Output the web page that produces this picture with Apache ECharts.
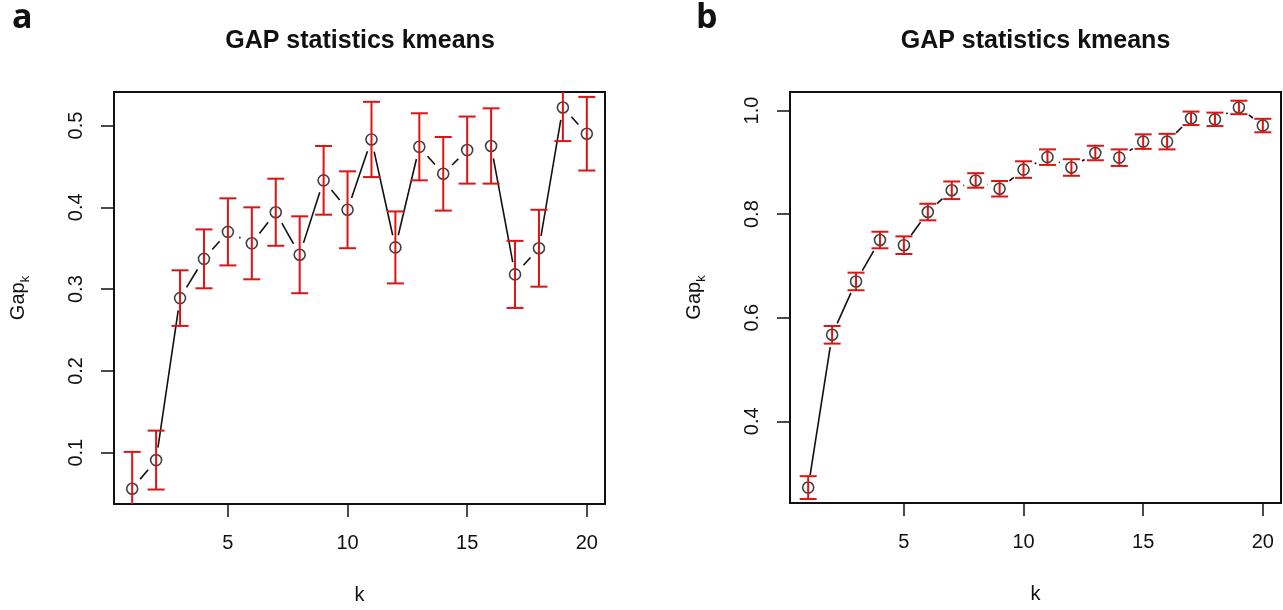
<!DOCTYPE html>
<html>
<head>
<meta charset="utf-8">
<script src="https://cdn.jsdelivr.net/npm/echarts@6/dist/echarts.min.js"></script>
<style>html,body{margin:0;padding:0;background:#fff;}#c{width:1283px;height:610px;}</style>
</head>
<body>
<div id="c"></div>
<script>
// ---- data ----
const ks = [1,2,3,4,5,6,7,8,9,10,11,12,13,14,15,16,17,18,19,20];
const gapA = [0.056,0.091,0.289,0.337,0.370,0.356,0.394,0.342,0.433,0.397,0.483,0.351,0.474,0.441,0.470,0.475,0.318,0.350,0.522,0.490];
const seA  = [0.045,0.036,0.034,0.036,0.041,0.044,0.041,0.047,0.042,0.047,0.046,0.044,0.041,0.045,0.041,0.046,0.041,0.047,0.041,0.045];
const gapB = [0.272,0.567,0.670,0.750,0.740,0.804,0.846,0.865,0.849,0.886,0.910,0.890,0.918,0.909,0.940,0.940,0.985,0.983,1.006,0.971];
const seB  = [0.022,0.017,0.017,0.016,0.017,0.016,0.017,0.014,0.015,0.016,0.015,0.016,0.014,0.016,0.014,0.015,0.013,0.013,0.013,0.013];
const xTicks = [5,10,15,20];
const yTicksA = [0.1,0.2,0.3,0.4,0.5];
const yTicksB = [0.4,0.6,0.8,1.0];
const titleText = 'GAP statistics kmeans';

const RED = '#dc1414';
const FONT = '"Liberation Sans", Arial, sans-serif';
const GAP_PX = 12.5;

function errData(g, s){ return ks.map((k,i)=>[k, g[i], s[i]]); }
function segData(g){ const out=[]; for(let i=0;i<ks.length-1;i++) out.push([ks[i], g[i], ks[i+1], g[i+1]]); return out; }
function ptData(g){ return ks.map((k,i)=>[k, g[i]]); }

function renderErr(params, api){
  const cs = params.coordSys;
  const k = api.value(0), g = api.value(1), s = api.value(2);
  const top = api.coord([k, g+s]), bot = api.coord([k, g-s]);
  const yMin = cs.y, yMax = cs.y + cs.height;
  const half = 8.5;
  const children = [];
  const y1 = Math.max(top[1], yMin), y2 = Math.min(bot[1], yMax);
  const st = {stroke: RED, lineWidth: 2};
  children.push({type:'line', shape:{x1:top[0], y1:y1, x2:top[0], y2:y2}, style: st});
  if (top[1] >= yMin) children.push({type:'line', shape:{x1:top[0]-half, y1:top[1], x2:top[0]+half, y2:top[1]}, style: st});
  if (bot[1] <= yMax) children.push({type:'line', shape:{x1:bot[0]-half, y1:bot[1], x2:bot[0]+half, y2:bot[1]}, style: st});
  return {type:'group', children};
}
function renderSeg(params, api){
  const a = api.coord([api.value(0), api.value(1)]);
  const b = api.coord([api.value(2), api.value(3)]);
  const dx = b[0]-a[0], dy = b[1]-a[1];
  const L = Math.sqrt(dx*dx+dy*dy);
  if (L <= 2*GAP_PX) return null;
  const ux = dx/L, uy = dy/L;
  return {type:'line', shape:{x1:a[0]+ux*GAP_PX, y1:a[1]+uy*GAP_PX, x2:b[0]-ux*GAP_PX, y2:b[1]-uy*GAP_PX},
          style:{stroke:'#111', lineWidth:1.6}};
}

function xAxisCfg(idx){
  return {
    type:'value', gridIndex: idx, min: 0.24, max: 20.76,
    name: 'k', nameLocation: 'middle', nameGap: 81,
    nameTextStyle: {fontFamily: FONT, fontSize: 20, color: '#111'},
    axisLine: {show: false},
    splitLine: {show: false},
    axisTick: {show: true, customValues: xTicks, length: 13, lineStyle: {color:'#111', width: 1.5}},
    axisLabel: {customValues: xTicks, margin: 29, fontFamily: FONT, fontSize: 20, color: '#111'}
  };
}
function yAxisCfg(idx, mn, mx, ticks){
  return {
    type:'value', gridIndex: idx, min: mn, max: mx,
    name: '{g|Gap}{s|k}', nameLocation: 'middle', nameGap: 86, nameRotate: 90,
    nameTextStyle: {fontFamily: FONT, color:'#111', rich: {
      g: {fontFamily: FONT, fontSize: 20, color:'#111'},
      s: {fontFamily: FONT, fontSize: 13, color:'#111', verticalAlign: 'bottom', padding:[0,0,-4,0]}
    }},
    axisLine: {show: false},
    splitLine: {show: false},
    axisTick: {show: true, customValues: ticks, length: 13, lineStyle: {color:'#111', width: 1.5}},
    axisLabel: {customValues: ticks, rotate: 90, margin: 28, fontFamily: FONT, fontSize: 20, color: '#111',
      formatter: v => (+v).toFixed(1)}
  };
}
function seriesFor(idx, g, s){
  return [
    {type:'custom', xAxisIndex: idx, yAxisIndex: idx, data: segData(g), renderItem: renderSeg,
     encode:{x:[0,2], y:[1,3]}, silent: true, z: 2},
    {type:'scatter', xAxisIndex: idx, yAxisIndex: idx, data: ptData(g), symbol: 'circle', symbolSize: 11,
     itemStyle: {color: 'rgba(0,0,0,0)', borderColor: '#111', borderWidth: 1.6}, silent: true, z: 3},
    {type:'custom', xAxisIndex: idx, yAxisIndex: idx, data: errData(g, s), renderItem: renderErr,
     encode:{x:0, y:1}, silent: true, z: 4}
  ];
}

const chart = echarts.init(document.getElementById('c'), null, {renderer: 'canvas'});
chart.setOption({
  animation: false,
  backgroundColor: '#fff',
  grid: [
    {left: 114, top: 92, width: 491, height: 412, show: true, borderColor: '#111', borderWidth: 2, backgroundColor: 'transparent'},
    {left: 790, top: 92, width: 491, height: 411, show: true, borderColor: '#111', borderWidth: 2, backgroundColor: 'transparent'}
  ],
  xAxis: [xAxisCfg(0), xAxisCfg(1)],
  yAxis: [yAxisCfg(0, 0.0373, 0.5410, yTicksA), yAxisCfg(1, 0.2422, 1.0358, yTicksB)],
  graphic: [
    {type:'text', left: 12, top: 1, style: {text: 'a', font: 'bold 34px "Open Sans", sans-serif', fill: '#111'}},
    {type:'text', left: 696, top: 1, style: {text: 'b', font: 'bold 34px "Open Sans", sans-serif', fill: '#111'}},
    {type:'text', x: 360, y: 41, style: {text: titleText, font: 'bold 25px "Liberation Sans", Arial, sans-serif', fill: '#111', textAlign: 'center', textVerticalAlign: 'middle'}},
    {type:'text', x: 1035.5, y: 41, style: {text: titleText, font: 'bold 25px "Liberation Sans", Arial, sans-serif', fill: '#111', textAlign: 'center', textVerticalAlign: 'middle'}}
  ],
  series: [].concat(seriesFor(0, gapA, seA), seriesFor(1, gapB, seB))
});
</script>
</body>
</html>
